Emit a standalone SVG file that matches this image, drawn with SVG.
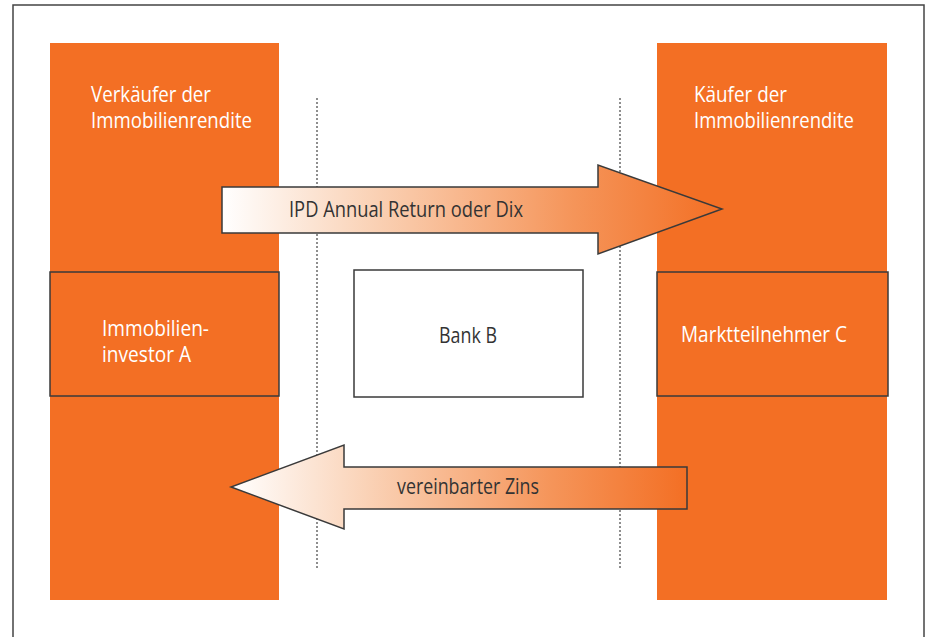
<svg xmlns="http://www.w3.org/2000/svg" width="929" height="637" viewBox="0 0 929 637">
<style>
.col{fill:#F36F24;}
.box{fill:#F36F24;stroke:#3a3a3a;stroke-width:1.5;}
.bank{fill:#fff;stroke:#3a3a3a;stroke-width:1.5;}
.arrow{stroke:#3a3a3a;stroke-width:1.5;}
.dot{stroke:#444;stroke-width:1.2;stroke-dasharray:2,2;fill:none;}
.w{fill:#fff;font-family:"Open Sans","Liberation Sans",sans-serif;font-size:21px;font-weight:500;}
.d{fill:#333;font-family:"Open Sans","Liberation Sans",sans-serif;font-size:21px;}
</style>
<defs>
<linearGradient id="gR" x1="222" y1="0" x2="722" y2="0" gradientUnits="userSpaceOnUse">
<stop offset="0" stop-color="#ffffff"/>
<stop offset="0.3" stop-color="#FAD2B6"/>
<stop offset="0.7" stop-color="#F5955A"/>
<stop offset="1" stop-color="#F36F24"/>
</linearGradient>
<linearGradient id="gL" x1="231" y1="0" x2="687" y2="0" gradientUnits="userSpaceOnUse">
<stop offset="0" stop-color="#ffffff"/>
<stop offset="0.3" stop-color="#FAD2B6"/>
<stop offset="0.7" stop-color="#F5955A"/>
<stop offset="1" stop-color="#F36F24"/>
</linearGradient>
</defs>
<rect x="13" y="5" width="911" height="640" fill="#fff" stroke="#444" stroke-width="1.5"/>
<g id="left-column">
<rect class="col" x="50" y="43" width="229" height="557"/>
<text class="w" x="91" y="102" textLength="120" lengthAdjust="spacingAndGlyphs">Verkäufer der</text>
<text class="w" x="91" y="128" textLength="161" lengthAdjust="spacingAndGlyphs">Immobilienrendite</text>
</g>
<g id="right-column">
<rect class="col" x="657" y="43" width="230" height="557"/>
<text class="w" x="694" y="102" textLength="93" lengthAdjust="spacingAndGlyphs">Käufer der</text>
<text class="w" x="694" y="128" textLength="160" lengthAdjust="spacingAndGlyphs">Immobilienrendite</text>
</g>
<g id="dividers">
<line class="dot" x1="317" y1="98" x2="317" y2="569"/>
<line class="dot" x1="620" y1="98" x2="620" y2="569"/>
</g>
<g id="investor-a">
<rect class="box" x="50" y="272" width="229" height="124"/>
<text class="w" x="102" y="336" textLength="107" lengthAdjust="spacingAndGlyphs">Immobilien-</text>
<text class="w" x="102" y="362" textLength="89" lengthAdjust="spacingAndGlyphs">investor A</text>
</g>
<g id="bank-b">
<rect class="bank" x="354" y="270" width="229" height="127"/>
<text class="d" x="439" y="343" textLength="58" lengthAdjust="spacingAndGlyphs">Bank B</text>
</g>
<g id="teilnehmer-c">
<rect class="box" x="657" y="272" width="231" height="124"/>
<text class="w" x="681" y="342" textLength="166" lengthAdjust="spacingAndGlyphs">Marktteilnehmer C</text>
</g>
<g id="connectors">
<g id="arrow-ipd">
<polygon class="arrow" fill="url(#gR)" points="222,187 598,187 598,165 722,209 598,254 598,233 222,233"/>
<text class="d" x="289" y="217" textLength="234" lengthAdjust="spacingAndGlyphs">IPD Annual Return oder Dix</text>
</g>
<g id="arrow-zins">
<polygon class="arrow" fill="url(#gL)" points="687,467 344,467 344,445 231,487 344,529 344,509 687,509"/>
<text class="d" x="397" y="494" textLength="142" lengthAdjust="spacingAndGlyphs">vereinbarter Zins</text>
</g>
</g>
</svg>
